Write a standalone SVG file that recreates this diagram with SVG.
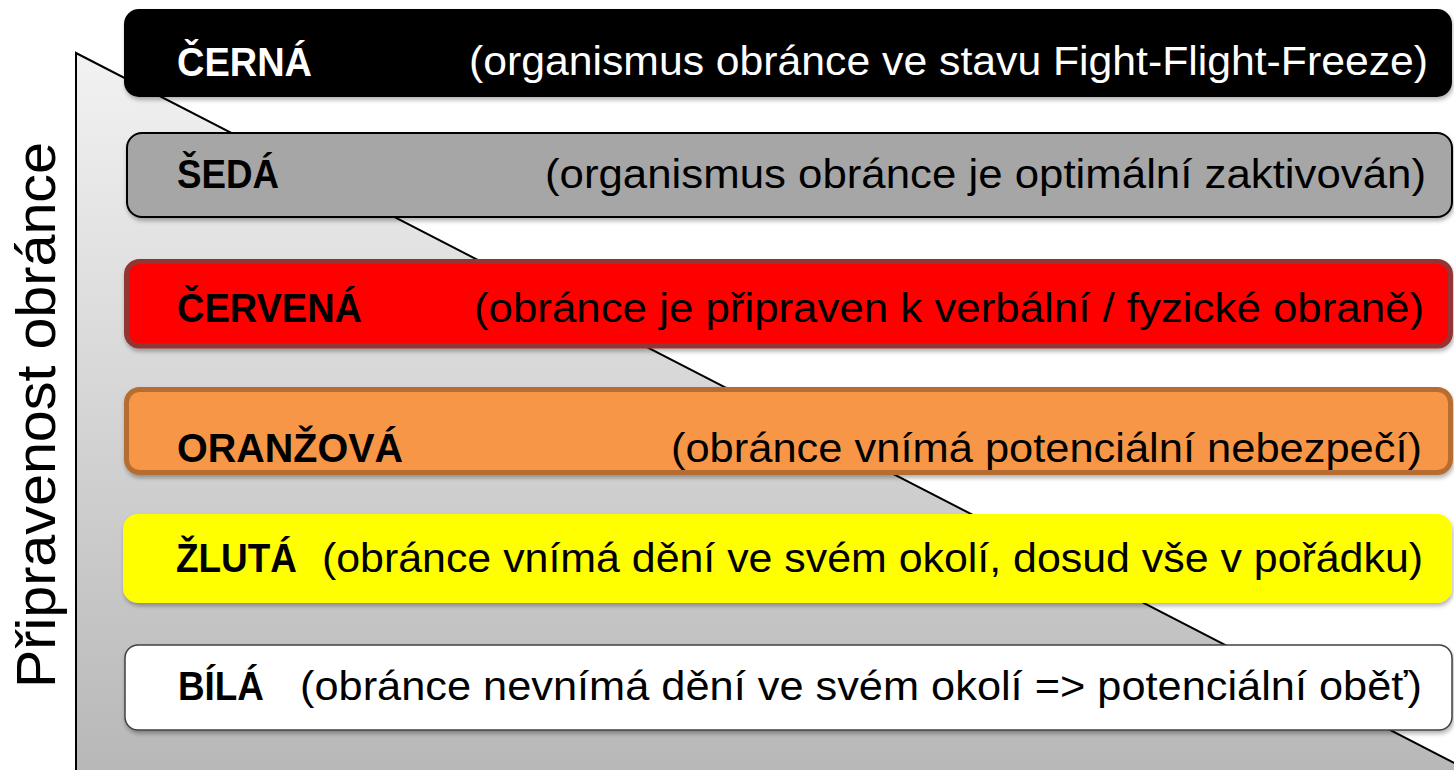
<svg xmlns="http://www.w3.org/2000/svg" width="1454" height="770" viewBox="0 0 1454 770">
<defs>
<linearGradient id="tri" x1="0" y1="53" x2="0" y2="770" gradientUnits="userSpaceOnUse">
<stop offset="0" stop-color="#f2f2f2"/>
<stop offset="1" stop-color="#b8b8b8"/>
</linearGradient>
<filter id="sh" x="-5%" y="-20%" width="110%" height="150%">
<feDropShadow dx="1" dy="3" stdDeviation="2" flood-color="#000" flood-opacity="0.3"/>
</filter>
<style>
.lbl{font-family:"Liberation Sans",Arial,sans-serif;font-weight:bold;font-size:40px}
.txt{font-family:"Liberation Sans",Arial,sans-serif;font-size:40px}
.bar{filter:url(#sh)}
</style>
</defs>
<rect x="0" y="0" width="1454" height="770" fill="#ffffff"/>
<g id="background-triangle">
<polygon points="76,53 1468,770 76,770" fill="url(#tri)"/>
<polyline points="76,772 76,53 1468,770" fill="none" stroke="#000" stroke-width="2"/>
</g>
<g id="axis-label">
<text class="txt" transform="translate(55,688) rotate(-90)" font-size="56" textLength="546" lengthAdjust="spacingAndGlyphs" style="font-size:56px">Připravenost obránce</text>
</g>
<g id="cerna">
<rect class="bar" x="124" y="9" width="1328" height="88" rx="15" fill="#000000"/>
<text class="lbl" x="177" y="76" fill="#fff" textLength="135" lengthAdjust="spacingAndGlyphs">ČERNÁ</text>
<text class="txt" x="469" y="75" fill="#fff" textLength="959" lengthAdjust="spacingAndGlyphs">(organismus obránce ve stavu Fight-Flight-Freeze)</text>
</g>
<g id="seda">
<rect class="bar" x="127" y="133" width="1325" height="84" rx="15" fill="#a6a6a6" stroke="#000" stroke-width="2"/>
<text class="lbl" x="177" y="188" fill="#000" textLength="102" lengthAdjust="spacingAndGlyphs">ŠEDÁ</text>
<text class="txt" x="545" y="188" fill="#000" textLength="881" lengthAdjust="spacingAndGlyphs">(organismus obránce je optimální zaktivován)</text>
</g>
<g id="cervena">
<rect class="bar" x="126.5" y="261.5" width="1324" height="84.5" rx="13" fill="#ff0000" stroke="#943634" stroke-width="5"/>
<text class="lbl" x="177" y="322" fill="#000" textLength="185" lengthAdjust="spacingAndGlyphs">ČERVENÁ</text>
<text class="txt" x="474" y="322" fill="#000" textLength="950" lengthAdjust="spacingAndGlyphs">(obránce je připraven k verbální / fyzické obraně)</text>
</g>
<g id="oranzova">
<rect class="bar" x="126.5" y="389.5" width="1324" height="83" rx="13" fill="#f79646" stroke="#b66d31" stroke-width="5"/>
<text class="lbl" x="177" y="462" fill="#000" textLength="226" lengthAdjust="spacingAndGlyphs">ORANŽOVÁ</text>
<text class="txt" x="671" y="462" fill="#000" textLength="751" lengthAdjust="spacingAndGlyphs">(obránce vnímá potenciální nebezpečí)</text>
</g>
<g id="zluta">
<rect class="bar" x="123" y="514" width="1329" height="89" rx="15" fill="#ffff00"/>
<text class="lbl" x="176" y="572" fill="#000" textLength="121" lengthAdjust="spacingAndGlyphs">ŽLUTÁ</text>
<text class="txt" x="322" y="572" fill="#000" textLength="1101" lengthAdjust="spacingAndGlyphs">(obránce vnímá dění ve svém okolí, dosud vše v pořádku)</text>
</g>
<g id="bila">
<rect class="bar" x="125" y="645" width="1327" height="85" rx="13" fill="#ffffff" stroke="#404040" stroke-width="1.5"/>
<text class="lbl" x="178" y="700" fill="#000" textLength="86" lengthAdjust="spacingAndGlyphs">BÍLÁ</text>
<text class="txt" x="300" y="700" fill="#000" textLength="1122" lengthAdjust="spacingAndGlyphs">(obránce nevnímá dění ve svém okolí =&gt; potenciální oběť)</text>
</g>
</svg>
